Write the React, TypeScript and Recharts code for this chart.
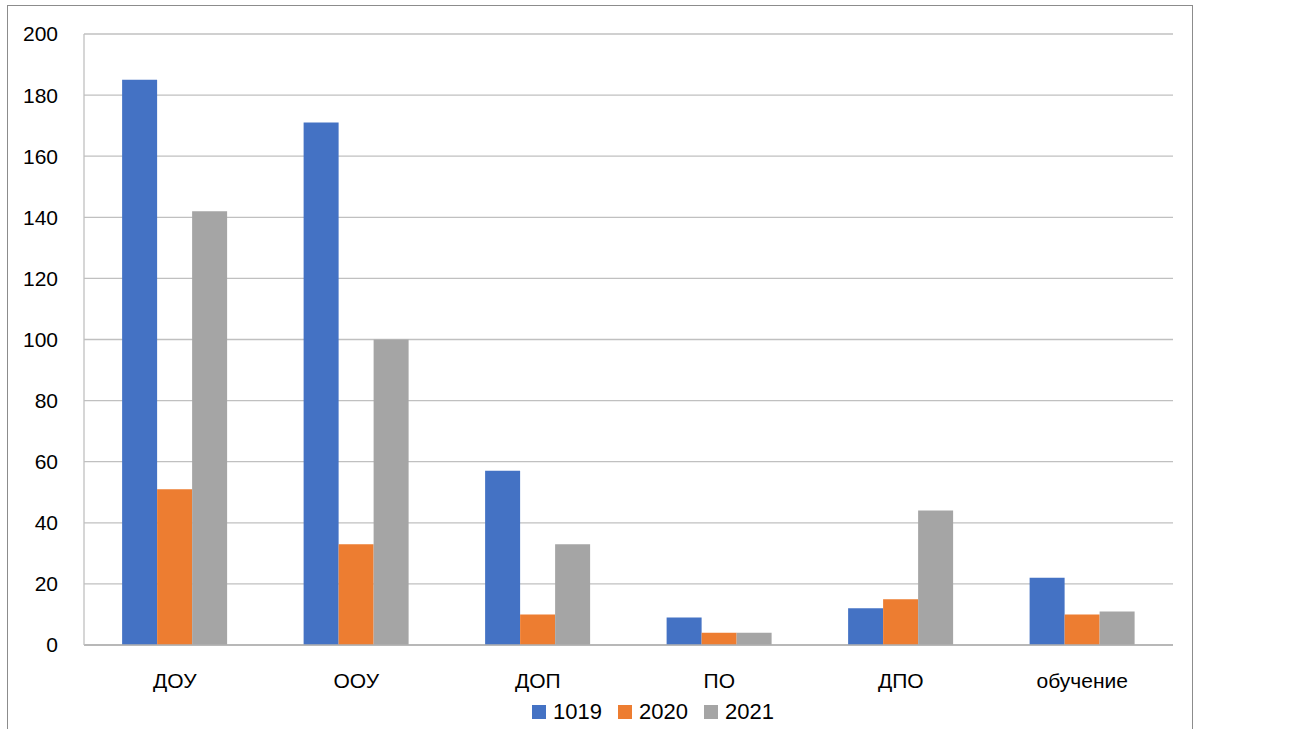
import { BarChart, Bar, XAxis, YAxis, CartesianGrid } from 'recharts'

// категории и значения по годам
const categories = ['ДОУ', 'ООУ', 'ДОП', 'ПО', 'ДПО', 'обучение']
const values1019 = [185, 171, 57, 9, 12, 22]
const values2020 = [51, 33, 10, 4, 15, 10]
const values2021 = [142, 100, 33, 4, 44, 11]
const yTicks = [0, 20, 40, 60, 80, 100, 120, 140, 160, 180, 200]

const seriesList = [
  { key: 's1019', name: '1019', color: '#4472C4' },
  { key: 's2020', name: '2020', color: '#ED7D31' },
  { key: 's2021', name: '2021', color: '#A5A5A5' },
]

const data = categories.map((name, i) => ({
  name,
  s1019: values1019[i],
  s2020: values2020[i],
  s2021: values2021[i],
}))

const FONT = '"Liberation Sans", Arial, sans-serif'

function LegendRow() {
  return (
    <div
      style={{
        position: 'absolute',
        left: 0,
        top: 697,
        width: 1306,
        display: 'flex',
        justifyContent: 'center',
        gap: 16,
        fontFamily: FONT,
        fontSize: 22,
        color: '#000',
        lineHeight: '30px',
      }}
    >
      {seriesList.map((s) => (
        <div key={s.key} style={{ display: 'flex', alignItems: 'center', gap: 7 }}>
          <span style={{ width: 14, height: 14, background: s.color, display: 'inline-block' }} />
          <span>{s.name}</span>
        </div>
      ))}
    </div>
  )
}

export default function App() {
  return (
    <div style={{ position: 'absolute', left: 0, top: 0, width: 1298, height: 729, overflow: 'hidden', background: '#fff' }}>
      <div
        style={{
          position: 'absolute',
          left: 7,
          top: 5,
          width: 1186,
          height: 760,
          border: '1px solid #8c8c8c',
          boxSizing: 'border-box',
        }}
      />
      <div style={{ position: 'absolute', left: 0, top: 0 }}>
        <BarChart
          width={1298}
          height={729}
          data={data}
          margin={{ top: 34, right: 125, bottom: 0, left: 0 }}
          barCategoryGap="21%"
          barGap={0}
        >
          <CartesianGrid vertical={false} stroke="#c0c0c0" strokeWidth={1.3} />
          <XAxis
            dataKey="name"
            height={84}
            tickLine={false}
            axisLine={{ stroke: '#b0b0b0', strokeWidth: 1.5 }}
            tick={{ fill: '#000', fontSize: 21, fontFamily: FONT }}
            tickMargin={22}
          />
          <YAxis
            width={84}
            domain={[0, 200]}
            ticks={yTicks}
            interval={0}
            tickLine={false}
            tickSize={0}
            tickMargin={26}
            axisLine={{ stroke: '#c0c0c0', strokeWidth: 1.3 }}
            tick={{ fill: '#000', fontSize: 21, fontFamily: FONT }}
          />
          {seriesList.map((s) => (
            <Bar key={s.key} dataKey={s.key} name={s.name} fill={s.color} isAnimationActive={false} />
          ))}
        </BarChart>
      </div>
      <LegendRow />
    </div>
  )
}
